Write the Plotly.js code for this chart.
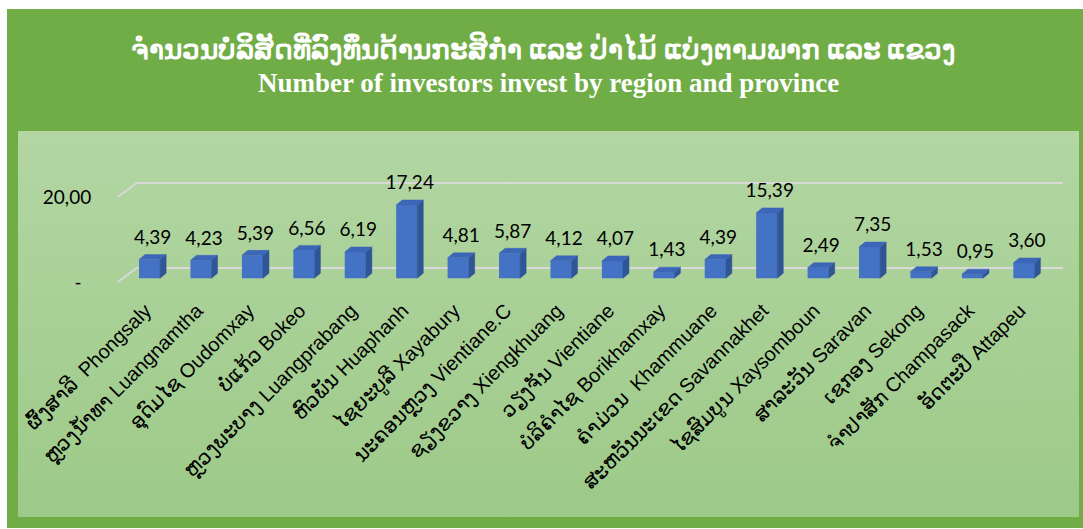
<!DOCTYPE html>
<html><head><meta charset="utf-8">
<script src="https://cdn.plot.ly/plotly-3.0.1.min.js"></script>
<style>
html,body{margin:0;padding:0;background:#fff;width:1083px;height:529px;overflow:hidden;}
#frame{position:absolute;left:7px;top:9px;width:1076px;height:519px;background:#70AD47;}
#panel{position:absolute;left:18px;top:131px;width:1061px;height:386px;background:linear-gradient(#b3d6a3,#9dca88);}
#chart{position:absolute;left:0;top:0;width:1083px;height:529px;}
</style></head><body>
<div id="frame"></div><div id="panel"></div><div id="chart"></div>
<script>
// ---- data ----
const provinces = [
  'ຜົ້ງສາລີ\u00a0\u00a0Phongsaly',
  'ຫຼວງນໍ້າທາ Luangnamtha',
  'ອຸດົມໄຊ Oudomxay',
  'ບໍ່ແກ້ວ Bokeo',
  'ຫຼວງພະບາງ Luangprabang',
  'ຫົວພັນ Huaphanh',
  'ໄຊຍະບູລີ Xayabury',
  'ນະຄອນຫຼວງ Vientiane.C',
  'ຊຽງຂວາງ Xiengkhuang',
  'ວຽງຈັນ Vientiane',
  'ບໍລິຄໍາໄຊ Borikhamxay',
  'ຄໍາມ່ວນ\u00a0\u00a0Khammuane',
  'ສະຫວັນນະເຂດ Savannakhet',
  'ໄຊສົມບູນ Xaysomboun',
  'ສາລະວັນ Saravan',
  'ເຊກອງ Sekong',
  'ຈໍາປາສັກ Champasack',
  'ອັດຕະປື Attapeu'
];
const values = [4.39, 4.23, 5.39, 6.56, 6.19, 17.24, 4.81, 5.87, 4.12, 4.07, 1.43, 4.39, 15.39, 2.49, 7.35, 1.53, 0.95, 3.60];
const yTicks = [0, 20];
const yTickLabels = ['-\u00a0\u00a0', '20,00'];
const titleLao = 'ຈຳນວນບໍລິສັດທີ່ລົງທຶນດ້ານກະສິກຳ ແລະ ປ່າໄມ້ ແບ່ງຕາມພາກ ແລະ ແຂວງ';
const titleEn = 'Number of investors invest by region and province';

// ---- 3D style constants (in axis units) ----
const BAR_W = 0.41, DX = 0.117, DY = 1.18;
const FRONT_X0 = -0.62, FRONT_DY = -0.87;
const BACK_X0 = -0.25, BACK_X1 = 17.76, BACK_DY = 2.43;
const FRONT = '#4472C4', SIDE = '#2F5597', TOP = '#3C66B8';

const idx = provinces.map((_, i) => i);
const labels = values.map(v => v.toFixed(2).replace('.', ','));

// side & top faces
const sx = [], sy = [], tx = [], ty = [];
values.forEach((v, i) => {
  const r = i + BAR_W / 2, l = i - BAR_W / 2;
  sx.push(r, r + DX, r + DX, r, r, null);
  sy.push(0, DY, v + DY, v, 0, null);
  tx.push(l, r, r + DX, l + DX, l, null);
  ty.push(v, v, v + DY, v + DY, v, null);
});

const traces = [
  {type: 'bar', x: idx, y: values, width: BAR_W, marker: {color: FRONT, line: {width: 0}}, hoverinfo: 'skip'},
  {type: 'scatter', mode: 'lines', x: sx, y: sy, fill: 'toself', fillcolor: SIDE, line: {color: SIDE, width: 0.5}, hoverinfo: 'skip'},
  {type: 'scatter', mode: 'lines', x: tx, y: ty, fill: 'toself', fillcolor: TOP, line: {color: TOP, width: 0.5}, hoverinfo: 'skip'},
  {type: 'scatter', mode: 'markers+text', x: idx.map(i => i + DX / 2), y: values, text: labels,
   textposition: 'top center', marker: {size: 16, opacity: 0}, cliponaxis: false,
   textfont: {family: 'Lato, "Open Sans", sans-serif', size: 19, color: '#000'}, hoverinfo: 'skip'}
];

const shapes = [];
yTicks.forEach(v => {
  const ln = {color: '#d9d9d9', width: 2};
  shapes.push({type: 'line', xref: 'x', yref: 'y', layer: 'below', x0: FRONT_X0, y0: v + FRONT_DY, x1: BACK_X0, y1: v + BACK_DY, line: ln});
  shapes.push({type: 'line', xref: 'x', yref: 'y', layer: 'below', x0: BACK_X0, y0: v + BACK_DY, x1: BACK_X1, y1: v + BACK_DY, line: ln});
});

const layout = {
  width: 1083, height: 529,
  margin: {l: 111, r: 18, t: 150, b: 238},
  paper_bgcolor: 'rgba(0,0,0,0)', plot_bgcolor: 'rgba(0,0,0,0)',
  showlegend: false,
  xaxis: {range: [-0.75, 17.8], tickmode: 'array', tickvals: idx, ticktext: provinces, tickangle: -45,
          showgrid: false, zeroline: false, showline: false, ticks: '', ticklabelshift: -4, ticklabelstandoff: 3,
          tickfont: {family: '"Liberation Sans", Arial, sans-serif', size: 20, color: '#000'}},
  yaxis: {range: [-3, 30.2], tickmode: 'array', tickvals: yTicks.map(v => v + FRONT_DY), ticktext: yTickLabels,
          showgrid: false, zeroline: false, showline: false, ticks: 'outside', ticklen: 15, tickcolor: 'rgba(0,0,0,0)',
          tickfont: {family: 'Lato, "Open Sans", sans-serif', size: 19, color: '#000'}},
  shapes: shapes,
  annotations: [
    {xref: 'paper', yref: 'paper', x: 0.453, y: 1.723, xanchor: 'center', yanchor: 'middle', showarrow: false,
     text: '<b>' + titleLao + '</b>', font: {family: '"Liberation Serif", "DejaVu Serif", serif', size: 27.5, color: '#fff'}},
    {xref: 'paper', yref: 'paper', x: 0.453, y: 1.475, xshift: 5, xanchor: 'center', yanchor: 'middle', showarrow: false,
     text: '<b>' + titleEn + '</b>', font: {family: '"Liberation Serif", "Times New Roman", serif', size: 27, color: '#fff'}}
  ]
};

Plotly.newPlot('chart', traces, layout, {staticPlot: true});
</script>
</body></html>
